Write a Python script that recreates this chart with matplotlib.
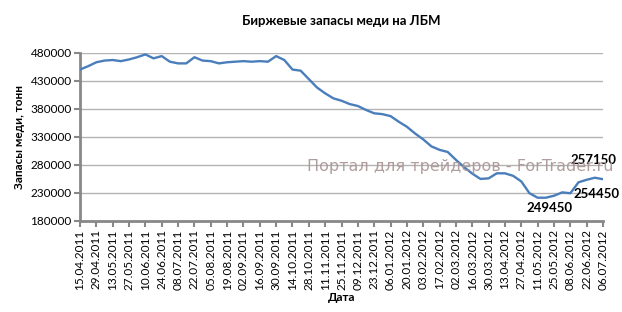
import matplotlib.pyplot as plt

plt.rcParams['font.family'] = ['Lato', 'DejaVu Sans']

# недельные данные, запасы меди (тонн)
dates = ['15.04.2011', '29.04.2011', '13.05.2011', '27.05.2011', '10.06.2011',
         '24.06.2011', '08.07.2011', '22.07.2011', '05.08.2011', '19.08.2011',
         '02.09.2011', '16.09.2011', '30.09.2011', '14.10.2011', '28.10.2011',
         '11.11.2011', '25.11.2011', '09.12.2011', '23.12.2011', '06.01.2012',
         '20.01.2012', '03.02.2012', '17.02.2012', '02.03.2012', '16.03.2012',
         '30.03.2012', '13.04.2012', '27.04.2012', '11.05.2012', '25.05.2012',
         '08.06.2012', '22.06.2012', '06.07.2012']

stocks = [450000, 456000, 463000, 466000, 467000, 465000, 468000, 472000,
          477000, 470000, 474000, 464000, 461000, 461000, 472000, 466000,
          465000, 461000, 463000, 464000, 465000, 464000, 465000, 464000,
          474000, 467000, 450000, 448000, 433000, 418000, 407600, 398700,
          394400, 388500, 385000, 378000, 372000, 370500, 367000, 357000,
          348000, 336000, 325500, 313000, 306800, 303000, 289000, 276000,
          264500, 255000, 256000, 265000, 265000, 260500, 250500, 229500,
          221500, 221500, 225000, 231000, 229500, 249000, 253500, 257150,
          254450]

yticks = [180000, 230000, 280000, 330000, 380000, 430000, 480000]

weeks = list(range(len(stocks)))

fig = plt.figure(figsize=(6.22, 3.12), dpi=100)
ax = fig.add_axes([0.1286, 0.2917, 0.8409, 0.5393])

ax.plot(weeks, stocks, color='#4a7ebb', linewidth=1.7, zorder=3)

ax.set_xlim(0, len(stocks) - 1)
ax.set_ylim(180000, 480000)
ax.set_yticks(yticks)
ax.set_yticklabels([str(v) for v in yticks], fontsize=8.5)
ax.set_xticks(weeks[::2])
ax.set_xticklabels(dates, rotation=90, fontsize=8.5)

ax.grid(axis='y', color='#b3b3b3', linewidth=1)
ax.set_axisbelow(True)
for s in ['top', 'right']:
    ax.spines[s].set_visible(False)
for s in ['left', 'bottom']:
    ax.spines[s].set_color('#888888')
    ax.spines[s].set_linewidth(2)
ax.tick_params(axis='both', colors='#888888', length=4, width=1.5, pad=2)
ax.tick_params(axis='both', labelcolor='black')

ax.set_title('Биржевые запасы меди на ЛБМ', fontsize=9.5, fontweight='bold', pad=20)
ax.set_ylabel('Запасы меди, тонн', fontsize=8.5, fontweight='bold', labelpad=4)
ax.set_xlabel('Дата', fontsize=8.5, fontweight='bold', labelpad=2)

# подписи значений
ax.text(62.8, 288700, '257150', fontsize=9.5, fontweight='bold', ha='center', va='center', zorder=4)
ax.text(63.2, 228100, '254450', fontsize=9.5, fontweight='bold', ha='center', va='center', zorder=4)
ax.text(57.4, 203200, '249450', fontsize=9.5, fontweight='bold', ha='center', va='center', zorder=4)

# водяной знак
fig.text(0.7395, 0.466, 'Портал для трейдеров - ForTrader.ru', fontsize=11.5,
         color='#a89393', ha='center', va='center', family=['DejaVu Sans'], alpha=0.9)

fig.savefig('out.png', dpi=100)
